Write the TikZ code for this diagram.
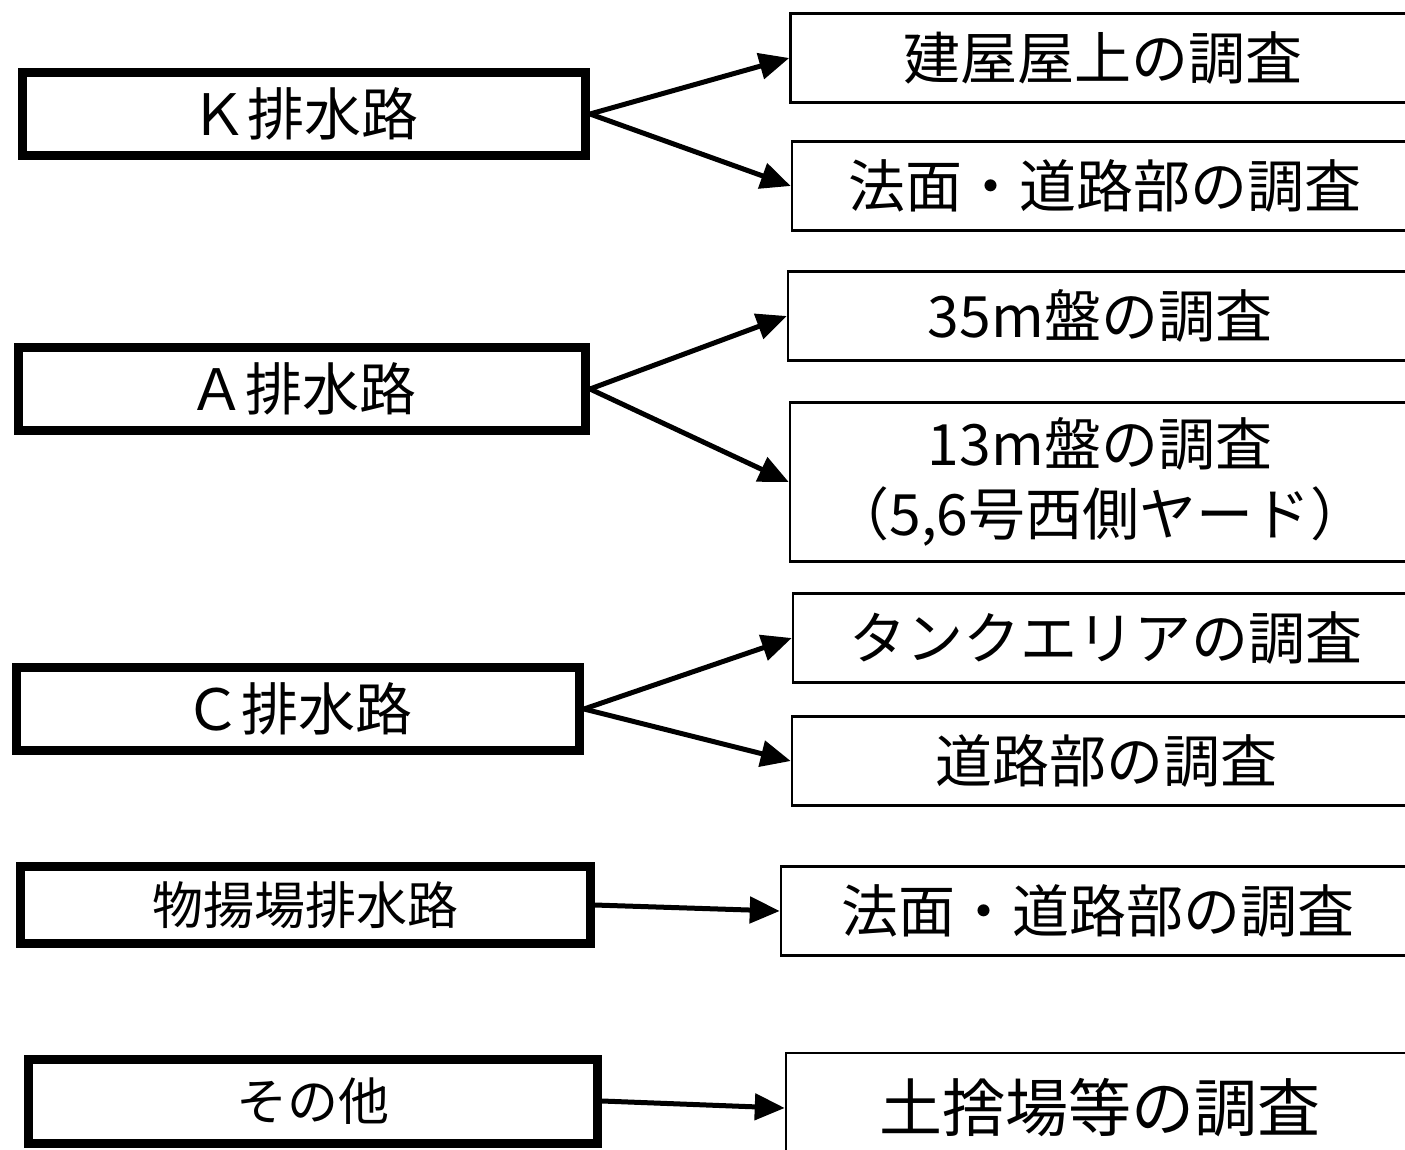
\documentclass[tikz,border=0pt]{standalone}
\usepackage{fontspec}
\setmainfont{Noto Sans CJK JP}
\usetikzlibrary{arrows.meta}

\begin{document}
\begin{tikzpicture}[x=1pt, y=-1pt,
    route/.style={draw, line width=9pt, inner sep=0pt, minimum width=563pt,
      minimum height=83pt, font=\fontsize{57}{68}\selectfont},
    survey/.style={draw, line width=2.5pt, inner sep=0pt, minimum height=89pt,
      font=\fontsize{57}{70}\selectfont},
    flow/.style={line width=5pt, -{Triangle[length=30pt, width=26pt]}}]
  \useasboundingbox (0,0) rectangle (1405,1150);
  % drainage routes
  \node[route] (rK) at (304,114) {Ｋ排水路};
  \node[route, minimum width=567pt] (rA) at (302,389) {Ａ排水路};
  \node[route] (rC) at (298,709) {Ｃ排水路};
  \node[route, minimum width=570pt, minimum height=77pt,
    font=\fontsize{51}{60}\selectfont] (rP) at (305,905) {物揚場排水路};
  \node[route, minimum width=569pt, minimum height=84pt,
    font=\fontsize{51}{60}\selectfont] (rO) at (313,1101) {その他};
  % surveys
  \node[survey, minimum width=625pt] (sK1) at (1103,58) {建屋屋上の調査};
  \node[survey, minimum width=626pt] (sK2) at (1105,186) {法面・道路部の調査};
  \node[survey, minimum width=624pt] (sA1) at (1100,316) {35m盤の調査};
  \node[survey, minimum width=620pt, minimum height=159pt, align=center]
    (sA2) at (1100,482) {13m盤の調査\\（5,6号西側ヤード）};
  \node[survey, minimum width=626pt] (sC1) at (1106,638) {タンクエリアの調査};
  \node[survey, minimum width=628pt] (sC2) at (1106,761) {道路部の調査};
  \node[survey, minimum width=634pt] (sP) at (1098,911) {法面・道路部の調査};
  \node[survey, minimum width=628pt, minimum height=110pt,
    font=\fontsize{63}{70}\selectfont] (sO) at (1100,1108) {土捨場等の調査};
  % arrows
  \draw[flow] (rK.east) -- (sK1.west);
  \draw[flow] (rK.east) -- (sK2.west);
  \draw[flow] (rA.east) -- (sA1.west);
  \draw[flow] (rA.east) -- (sA2.west);
  \draw[flow] (rC.east) -- (sC1.west);
  \draw[flow] (rC.east) -- (sC2.west);
  \draw[flow] (rP.east) -- (sP.west);
  \draw[flow] (rO.east) -- (sO.west);
\end{tikzpicture}
\end{document}
